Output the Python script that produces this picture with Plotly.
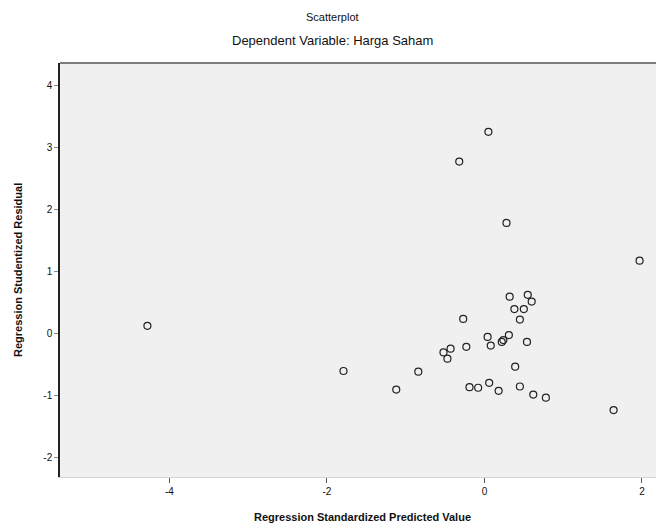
import plotly.graph_objects as go

# Regression Standardized Predicted Value (x) vs Studentized Residual (y)
pred_value = [-4.28, -1.79, -1.12, -0.84, -0.52, -0.47, -0.43, -0.27, -0.23, -0.19,
              -0.08, 0.05, -0.32, 0.28, 1.97, 1.64, 0.32, 0.55, 0.60, 0.38,
              0.50, 0.45, 0.04, 0.08, 0.22, 0.24, 0.31, 0.54, 0.39, 0.06,
              0.18, 0.45, 0.62, 0.78]
stud_resid = [0.13, -0.60, -0.90, -0.61, -0.30, -0.40, -0.24, 0.24, -0.21, -0.86,
              -0.87, 3.26, 2.78, 1.79, 1.18, -1.23, 0.60, 0.63, 0.52, 0.40,
              0.40, 0.23, -0.05, -0.19, -0.13, -0.10, -0.02, -0.13, -0.53, -0.79,
              -0.92, -0.85, -0.98, -1.03]
x_ticks = [-4, -2, 0, 2]
y_ticks = [-2, -1, 0, 1, 2, 3, 4]

# page body has an 8px margin, so the figure is drawn 8px smaller and everything
# is given in page pixels then shifted
OFF = 8
W, H = 664 - OFF, 530 - OFF
L, T, B = 60 - OFF, 63 - OFF, 477 - OFF
pw, ph = W - L, B - T

def px(x, y):
    # page pixel -> paper coords
    return (x - OFF - L) / pw, (B - (y - OFF)) / ph

fig = go.Figure()
fig.add_trace(go.Scatter(
    x=pred_value, y=stud_resid,
    mode="markers",
    marker=dict(symbol="circle-open", size=7, color="#222222", line=dict(width=1.2)),
    showlegend=False
))

font = "Liberation Sans, Arial, sans-serif"
fig.update_layout(
    width=W, height=H,
    margin=dict(l=L, r=0, t=T, b=H - B, autoexpand=False),
    paper_bgcolor="white",
    plot_bgcolor="#f0f0f0",
    font=dict(family=font, color="#111111", size=11),
    xaxis=dict(
        range=[-5.39, 2.28], tickvals=x_ticks, ticktext=[str(v) for v in x_ticks],
        showgrid=False, zeroline=False, ticks="outside", ticklen=5,
        tickcolor="#555555", showline=True, linecolor="#d4d4d4", linewidth=1,
        automargin=False, tickfont=dict(size=10),
    ),
    yaxis=dict(
        range=[-2.31, 4.37], tickvals=y_ticks, ticktext=[str(v) for v in y_ticks],
        showgrid=False, zeroline=False, ticks="outside", ticklen=4,
        tickcolor="#888888", showline=True, linecolor="#222222", linewidth=1.5,
        automargin=False, tickfont=dict(size=10),
    ),
)

titles = [
    ("Scatterplot", 332, 17, 11, 0),
    ("Dependent Variable: Harga Saham", 332, 41, 13, 0),
    ("<b>Regression Standardized Predicted Value</b>", 362, 517, 11, 0),
    ("<b>Regression Studentized Residual</b>", 18, 270, 11, -90),
]
for text, tx, ty, size, angle in titles:
    ax, ay = px(tx, ty)
    fig.add_annotation(text=text, x=ax, y=ay, xref="paper", yref="paper",
                       showarrow=False, xanchor="center", yanchor="middle",
                       textangle=angle, font=dict(size=size))

# top frame line
fig.add_shape(type="line", xref="paper", yref="paper", x0=0, x1=1, y0=1, y1=1,
              line=dict(color="#555555", width=1.5))

fig.write_html("out.html")
